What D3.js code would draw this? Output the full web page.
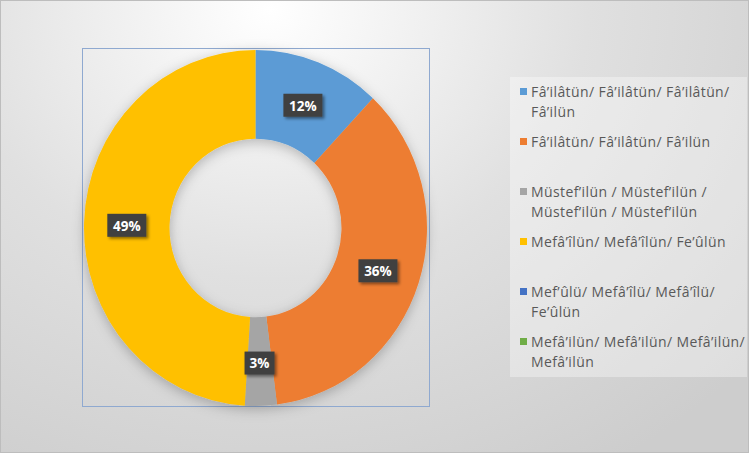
<!DOCTYPE html>
<html>
<head>
<meta charset="utf-8">
<script src="https://cdn.jsdelivr.net/npm/d3@7"></script>
<style>
  html, body { margin: 0; padding: 0; background: #fff; }
  svg { display: block; }
</style>
</head>
<body>
<div id="chart"></div>
<script>
// Data
const categories = [
    ["Fâ’ilâtün/ Fâ’ilâtün/ Fâ’ilâtün/", "Fâ’ilün"],
    ["Fâ’ilâtün/ Fâ’ilâtün/ Fâ’ilün"],
    ["Müstef’ilün / Müstef’ilün /", "Müstef’ilün / Müstef’ilün"],
    ["Mefâ’îlün/ Mefâ’îlün/ Fe’ûlün"],
    ["Mef’ûlü/ Mefâ’îlü/ Mefâ’îlü/", "Fe’ûlün"],
    ["Mefâ’ilün/ Mefâ’ilün/ Mefâ’ilün/", "Mefâ’ilün"]
];
const values = [12, 36, 3, 49, 0, 0];
const colors = ["#5B9BD5", "#ED7D31", "#A5A5A5", "#FFC000", "#4472C4", "#70AD47"];

const W = 749, H = 455;
const cx = 255.5, cy = 228;
const outerR = 171.5, innerR = 86;
const yStretch = 178 / 171.5;

const svg = d3.select("#chart").append("svg")
    .attr("width", W)
    .attr("height", H);

const defs = svg.append("defs");

// background gradient
const bg = defs.append("radialGradient")
    .attr("id", "bg")
    .attr("cx", "0.36").attr("cy", "0.02")
    .attr("r", "0.85")
    .attr("gradientTransform", "translate(0.36,0.02) scale(1,1.4) translate(-0.36,-0.02)");
bg.append("stop").attr("offset", "0").attr("stop-color", "#ffffff");
bg.append("stop").attr("offset", "0.5").attr("stop-color", "#e0e0e0");
bg.append("stop").attr("offset", "1").attr("stop-color", "#cdcdcd");

const shadow = defs.append("filter").attr("id", "shadow")
    .attr("x", "-20%").attr("y", "-20%").attr("width", "140%").attr("height", "140%");
shadow.append("feDropShadow")
    .attr("dx", 2).attr("dy", 2).attr("stdDeviation", 1.5)
    .attr("flood-color", "#000").attr("flood-opacity", 0.45);

const ringShadow = defs.append("filter").attr("id", "ringShadow")
    .attr("x", "-20%").attr("y", "-20%").attr("width", "140%").attr("height", "140%");
ringShadow.append("feDropShadow")
    .attr("dx", 0).attr("dy", 3).attr("stdDeviation", 6)
    .attr("flood-color", "#000").attr("flood-opacity", 0.25);

svg.append("rect")
    .attr("x", 0.5).attr("y", 0.5)
    .attr("width", W - 1).attr("height", H - 3)
    .attr("fill", "url(#bg)")
    .attr("stroke", "#bdbdbd");

// plot area box
svg.append("rect")
    .attr("x", 82.5).attr("y", 48.5)
    .attr("width", 347).attr("height", 358)
    .attr("fill", "none")
    .attr("stroke", "#8fa9d0")
    .attr("stroke-width", 1);

// Donut
const pie = d3.pie().sort(null).value(d => d);
const arcs = pie(values);
const arc = d3.arc().innerRadius(innerR).outerRadius(outerR);
const labelArc = d3.arc().innerRadius((innerR + outerR) / 2).outerRadius((innerR + outerR) / 2);

const ring = svg.append("g")
    .attr("transform", `translate(${cx},${cy}) scale(1,${yStretch})`)
    .attr("filter", "url(#ringShadow)");

ring.selectAll("path")
    .data(arcs)
    .join("path")
    .attr("d", arc)
    .attr("fill", (d, i) => colors[i]);

// Data labels
const labels = svg.append("g");
arcs.filter(d => d.data > 0).forEach(d => {
    const [lx, ly] = labelArc.centroid(d);
    const g = labels.append("g")
        .attr("transform", `translate(${cx + lx},${cy + ly * yStretch + 2})`);
    const txt = d.data + "%";
    const w = txt.length > 2 ? 39 : 30;
    g.append("rect")
        .attr("x", -w / 2).attr("y", -12)
        .attr("width", w).attr("height", 23)
        .attr("fill", "#404040")
        .attr("filter", "url(#shadow)");
    g.append("text")
        .attr("text-anchor", "middle")
        .attr("dy", "0.36em")
        .attr("fill", "#ffffff")
        .attr("font-family", "'Open Sans', Lato, sans-serif")
        .attr("font-weight", "bold")
        .attr("font-size", 13.5)
        .text(txt);
});

// Legend
svg.append("rect")
    .attr("x", 510).attr("y", 77)
    .attr("width", 237).attr("height", 300)
    .attr("fill", "#ffffff")
    .attr("fill-opacity", 0.35);

const legend = svg.append("g")
    .attr("font-family", "'Open Sans', Lato, sans-serif")
    .attr("font-size", 14)
    .attr("letter-spacing", 0.4)
    .attr("fill", "#595959");

categories.forEach((lines, i) => {
    const y0 = 92 + i * 50;
    legend.append("rect")
        .attr("x", 520).attr("y", y0 - 4)
        .attr("width", 7).attr("height", 7)
        .attr("fill", colors[i]);
    lines.forEach((line, j) => {
        legend.append("text")
            .attr("x", 531)
            .attr("y", y0 + j * 20)
            .attr("dy", "0.35em")
            .text(line);
    });
});
</script>
</body>
</html>
